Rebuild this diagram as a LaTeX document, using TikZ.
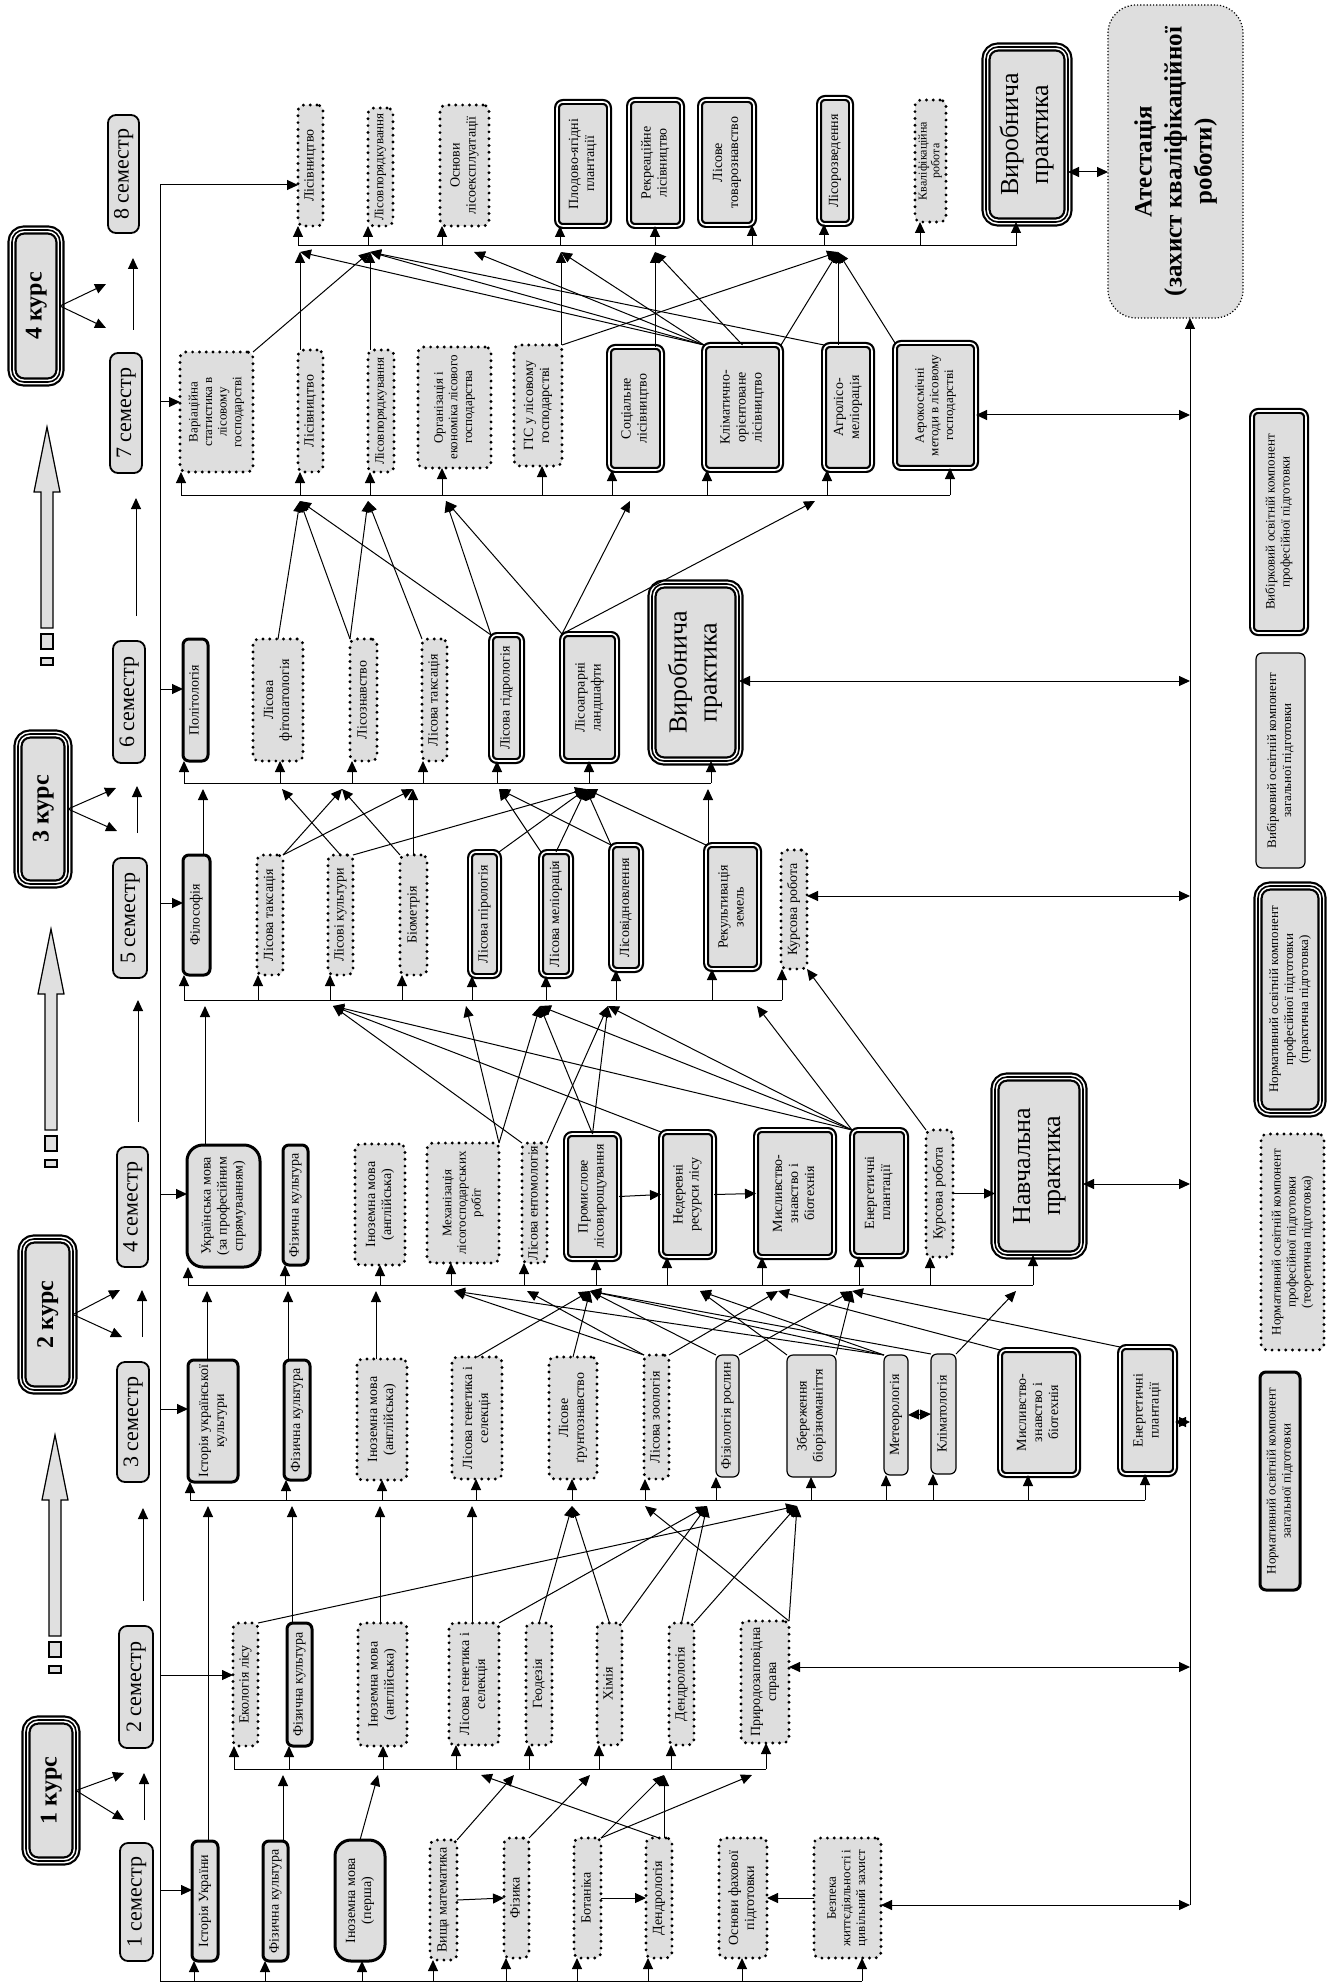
\documentclass[tikz,border=0pt]{standalone}
\usepackage{fontspec}
\setmainfont{Liberation Serif}
\usepackage{graphicx}
\usetikzlibrary{arrows.meta,calc}
\newcommand{\dgbox}[7]{\node[#2, minimum width={(#5-#3)*0.5pt}, minimum height={(#6-#4)*0.5pt}] (#1) at ({(#3+#5)/2},{(#4+#6)/2}) {\rotatebox{90}{\begin{tabular}{@{}c@{}}#7\end{tabular}}};}
\newcommand{\dgstem}[4]{\coordinate (#1-b) at (#2,#4); \coordinate (#1-t) at (#3,#4+6); \draw[arr] (#1-b) -- (#1-b |- #1.south);}
\newcommand{\dgblock}[2]{%
 \filldraw[fill=black!12, draw=black, line width=0.6pt] (#1,#2) -- (#1+13,#2+65) -- (#1+6,#2+65) -- (#1+6,#2+201) -- (#1-6,#2+201) -- (#1-6,#2+65) -- (#1-13,#2+65) -- cycle;
 \filldraw[fill=black!12, draw=black, line width=0.6pt] (#1-6,#2+207) rectangle (#1+6,#2+222);
 \filldraw[fill=black!12, draw=black, line width=0.6pt] (#1-6,#2+231) rectangle (#1+6,#2+238);}
\tikzset{
 conn/.style={line width=0.5pt},
 arr/.style={conn, -{Triangle[length=5.5pt,width=5pt]}},
 darr/.style={conn, {Triangle[length=5.5pt,width=5pt]}-{Triangle[length=5.5pt,width=5pt]}},
 boxbase/.style={inner sep=0pt, outer sep=0pt, align=center, font=\fontsize{7}{8}\selectfont, rounded corners=3pt},
 ngen/.style={boxbase, draw, fill=black!13, line width=1.5pt},
 nprof/.style={boxbase, draw, fill=black!13, line width=1.6pt, dash pattern=on 0pt off 3.4pt, line cap=round},
 egen/.style={boxbase, draw, fill=black!13, line width=0.6pt},
 eprof/.style={boxbase, preaction={fill=black!13, draw=black, line width=3pt}, draw=white, line width=0.8pt},
 prac/.style={boxbase, rounded corners=6pt, preaction={fill=black!13, draw=black, line width=4.6pt}, draw=white, line width=0.8pt, double=black, double distance=0.8pt},
 semb/.style={boxbase, draw, fill=black!13, line width=0.9pt, rounded corners=4pt, font=\fontsize{11}{13}\selectfont},
 course/.style={prac, font=\bfseries\fontsize{12}{14}\selectfont},
 attb/.style={boxbase, draw, fill=black!13, line width=0.6pt, densely dotted, rounded corners=14pt, font=\bfseries\fontsize{12.5}{15}\selectfont},
 bigtxt/.style={font=\fontsize{13}{15}\selectfont},
 smtxt/.style={font=\fontsize{6.5}{7.3}\selectfont},
 tinytxt/.style={font=\fontsize{6}{6.4}\selectfont},
 legtxt/.style={font=\fontsize{6.5}{7.5}\selectfont},
}
\begin{document}
\begin{tikzpicture}[x=0.5pt,y=-0.5pt]
\useasboundingbox (0,0) rectangle (1331,1984);

% ---------- headers ----------
\dgblock{47}{427}
\dgblock{51}{929}
\dgblock{55}{1435}
\dgbox{c4}{course}{12}{230}{60}{382}{4 курс}
\dgbox{c3}{course}{18}{734}{68}{884}{3 курс}
\dgbox{c2}{course}{22}{1239}{73}{1390}{2 курс}
\dgbox{c1}{course}{26}{1720}{76}{1861}{1 курс}
\dgbox{m8}{semb}{108}{115}{139}{233}{8 семестр}
\dgbox{m7}{semb}{110}{353}{142}{473}{7 семестр}
\dgbox{m6}{semb}{113}{641}{145}{763}{6 семестр}
\dgbox{m5}{semb}{113}{858}{147}{978}{5 семестр}
\dgbox{m4}{semb}{117}{1147}{148}{1267}{4 семестр}
\dgbox{m3}{semb}{117}{1362}{149}{1482}{3 семестр}
\dgbox{m2}{semb}{119}{1626}{153}{1748}{2 семестр}
\dgbox{m1}{semb}{120}{1843}{153}{1961}{1 семестр}
\coordinate (k4a) at (106,284); \coordinate (k4b) at (106,328);
\coordinate (k3a) at (116,788); \coordinate (k3b) at (117,831);
\coordinate (k2a) at (120,1290); \coordinate (k2b) at (122,1337);
\coordinate (k1a) at (124,1773); \coordinate (k1b) at (124,1820);
\foreach \c in {4,3,2,1}{\draw[arr] (c\c.east) -- (k\c a); \draw[arr] (c\c.east) -- (k\c b);}
\coordinate (v4a) at (133,330); \coordinate (v4b) at (133,258);
\coordinate (v3a) at (137,833); \coordinate (v3b) at (137,786);
\coordinate (v2a) at (142,1337); \coordinate (v2b) at (142,1290);
\coordinate (v1a) at (144,1820); \coordinate (v1b) at (144,1773);
\coordinate (w3a) at (136,616); \coordinate (w3b) at (136,498);
\coordinate (w2a) at (138,1122); \coordinate (w2b) at (138,1000);
\coordinate (w1a) at (143,1601); \coordinate (w1b) at (143,1508);
\foreach \c in {v4,v3,v2,v1,w3,w2,w1}{\draw[arr] (\c a) -- (\c b);}

% ---------- semester 8 ----------
\dgbox{s8a}{nprof}{298}{105}{323}{226}{Лісівництво}
\dgbox{s8b}{nprof,smtxt}{368}{108}{393}{226}{Лісовпорядкування}
\dgbox{s8c}{nprof}{440}{105}{489}{226}{Основи\\лісоексплуатації}
\dgbox{s8d}{eprof}{557}{102}{609}{226}{Плодово-ягідні\\плантації}
\dgbox{s8e}{eprof}{629}{100}{682}{226}{Рекреаційне\\лісівництво}
\dgbox{s8f}{eprof}{700}{100}{754}{225}{Лісове\\товарознавство}
\dgbox{s8g}{eprof}{819}{98}{851}{224}{Лісорозведення}
\dgbox{s8h}{nprof,tinytxt}{915}{100}{946}{222}{Кваліфікаційна\\робота}
\dgbox{s8i}{prac,bigtxt}{986}{47}{1068}{222}{Виробнича\\практика}
\dgbox{att}{attb}{1108}{5}{1243}{318}{Атестація\\(захист кваліфікаційної\\роботи)}

% ---------- semester 7 ----------
\dgbox{s7a}{nprof,smtxt}{180}{352}{253}{472}{Варіаційна\\статистика в\\лісовому\\господарстві}
\dgbox{s7b}{nprof}{298}{350}{323}{472}{Лісівництво}
\dgbox{s7c}{nprof,smtxt}{368}{350}{394}{472}{Лісовпорядкування}
\dgbox{s7d}{nprof,smtxt}{418}{347}{491}{468}{Організація і\\економіка лісового\\господарства}
\dgbox{s7e}{nprof}{514}{345}{562}{466}{ГІС у лісовому\\господарстві}
\dgbox{s7f}{eprof}{609}{347}{662}{470}{Соціальне\\лісівництво}
\dgbox{s7g}{eprof}{704}{345}{781}{470}{Кліматично-\\орієнтоване\\лісівництво}
\dgbox{s7h}{eprof}{824}{345}{872}{470}{Агролісо-\\меліорація}
\dgbox{s7i}{eprof,smtxt}{895}{343}{976}{468}{Аерокосмічні\\методи в лісовому\\господарстві}

% ---------- semester 6 ----------
\dgbox{s6a}{ngen}{183}{639}{208}{761}{Політологія}
\dgbox{s6b}{nprof}{253}{639}{303}{761}{Лісова\\фітопатологія}
\dgbox{s6c}{nprof}{350}{639}{377}{761}{Лісознавство}
\dgbox{s6d}{nprof}{422}{639}{447}{761}{Лісова таксація}
\dgbox{s6e}{eprof}{491}{635}{522}{761}{Лісова гідрологія}
\dgbox{s6f}{eprof}{562}{634}{617}{761}{Лісоаграрні\\ландшафти}
\dgbox{s6g}{prac,bigtxt}{652}{584}{739}{761}{Виробнича\\практика}

% ---------- semester 5 ----------
\dgbox{s5a}{ngen}{183}{855}{210}{975}{Філософія}
\dgbox{s5b}{nprof}{257}{855}{283}{975}{Лісова таксація}
\dgbox{s5c}{nprof}{328}{855}{353}{975}{Лісові культури}
\dgbox{s5d}{nprof}{400}{855}{427}{975}{Біометрія}
\dgbox{s5e}{eprof}{470}{852}{499}{976}{Лісова пірологія}
\dgbox{s5f}{eprof}{541}{852}{571}{976}{Лісова меліорація}
\dgbox{s5g}{eprof}{611}{845}{641}{970}{Лісовідновлення}
\dgbox{s5h}{eprof}{706}{845}{759}{969}{Рекультивація\\земель}
\dgbox{s5i}{nprof}{781}{850}{807}{969}{Курсова робота}

% ---------- semester 4 ----------
\dgbox{s4a}{ngen,rounded corners=8pt}{187}{1145}{260}{1267}{Українська мова\\(за професійним\\спрямуванням)}
\dgbox{s4b}{ngen}{283}{1145}{308}{1265}{Фізична культура}
\dgbox{s4c}{nprof}{355}{1144}{405}{1265}{Іноземна мова\\(англійська)}
\dgbox{s4d}{nprof,smtxt}{427}{1143}{499}{1263}{Механізація\\лісогосподарських\\робіт}
\dgbox{s4e}{nprof}{522}{1143}{547}{1263}{Лісова ентомологія}
\dgbox{s4f}{eprof}{566}{1134}{619}{1259}{Промислове\\лісовирощування}
\dgbox{s4g}{eprof}{661}{1132}{714}{1257}{Недеревні\\ресурси лісу}
\dgbox{s4h}{eprof}{756}{1130}{834}{1257}{Мисливство-\\знавство і\\біотехнія}
\dgbox{s4i}{eprof}{852}{1130}{906}{1256}{Енергетичні\\плантації}
\dgbox{s4j}{nprof}{926}{1130}{953}{1257}{Курсова робота}
\dgbox{s4k}{prac,bigtxt}{995}{1077}{1083}{1255}{Навчальна\\практика}

% ---------- semester 3 ----------
\dgbox{s3a}{ngen}{188}{1360}{238}{1482}{Історія української\\культури}
\dgbox{s3b}{ngen}{284}{1360}{310}{1480}{Фізична культура}
\dgbox{s3c}{nprof}{357}{1359}{407}{1480}{Іноземна мова\\(англійська)}
\dgbox{s3d}{nprof}{452}{1357}{502}{1479}{Лісова генетика і\\селекція}
\dgbox{s3e}{nprof}{549}{1357}{597}{1479}{Лісове\\ґрунтознавство}
\dgbox{s3f}{nprof}{644}{1355}{669}{1479}{Лісова зоологія}
\dgbox{s3g}{egen}{716}{1355}{739}{1477}{Фізіологія рослин}
\dgbox{s3h}{egen}{787}{1355}{836}{1477}{Збереження\\біорізноманіття}
\dgbox{s3i}{egen}{884}{1355}{908}{1475}{Метеорологія}
\dgbox{s3j}{egen}{931}{1354}{956}{1474}{Кліматологія}
\dgbox{s3k}{eprof}{1000}{1350}{1078}{1475}{Мисливство-\\знавство і\\біотехнія}
\dgbox{s3l}{eprof}{1120}{1347}{1175}{1474}{Енергетичні\\плантації}

% ---------- semester 2 ----------
\dgbox{s2a}{nprof}{233}{1623}{258}{1746}{Екологія лісу}
\dgbox{s2b}{ngen}{287}{1623}{312}{1746}{Фізична культура}
\dgbox{s2c}{nprof}{358}{1623}{407}{1746}{Іноземна мова\\(англійська)}
\dgbox{s2d}{nprof}{449}{1623}{499}{1745}{Лісова генетика і\\селекція}
\dgbox{s2e}{nprof}{526}{1623}{552}{1745}{Геодезія}
\dgbox{s2f}{nprof}{597}{1623}{622}{1745}{Хімія}
\dgbox{s2g}{nprof}{669}{1623}{694}{1745}{Дендрологія}
\dgbox{s2h}{nprof}{741}{1621}{789}{1743}{Природозаповідна\\справа}

% ---------- semester 1 ----------
\dgbox{s1a}{ngen}{192}{1841}{218}{1961}{Історія України}
\dgbox{s1b}{ngen}{263}{1841}{288}{1961}{Фізична культура}
\dgbox{s1c}{ngen,rounded corners=8pt}{335}{1840}{385}{1961}{Іноземна мова\\(перша)}
\dgbox{s1d}{nprof}{430}{1840}{457}{1960}{Вища математика}
\dgbox{s1e}{nprof}{504}{1838}{529}{1958}{Фізика}
\dgbox{s1f}{nprof}{574}{1838}{601}{1958}{Ботаніка}
\dgbox{s1g}{nprof}{646}{1838}{672}{1958}{Дендрологія}
\dgbox{s1h}{nprof}{719}{1838}{767}{1958}{Основи фахової\\підготовки}
\dgbox{s1i}{nprof,smtxt}{814}{1838}{881}{1958}{Безпека\\життєдіяльності і\\цивільний захист}

% ---------- legend ----------
\dgbox{L1}{eprof,legtxt}{1252}{411}{1306}{633}{Вибірковий освітній компонент\\професійної підготовки}
\dgbox{L2}{egen,legtxt}{1256}{653}{1305}{868}{Вибірковий освітній компонент\\загальної підготовки}
\dgbox{L3}{prac,legtxt}{1258}{886}{1322}{1113}{Нормативний освітній компонент\\професійної підготовки\\(практична підготовка)}
\dgbox{L4}{nprof,legtxt}{1261}{1134}{1324}{1350}{Нормативний освітній компонент\\професійної підготовки\\(теоретична підготовка)}
\dgbox{L5}{ngen,legtxt}{1260}{1372}{1300}{1590}{Нормативний освітній компонент\\загальної підготовки}

% ---------- stems and buses ----------
\dgstem{s8a}{298}{300}{246}\dgstem{s8b}{368}{370}{246}\dgstem{s8c}{442}{474}{246}
\dgstem{s8d}{560}{561}{246}\dgstem{s8e}{655}{655}{246}\dgstem{s8f}{752}{752}{246}
\dgstem{s8g}{824}{838}{246}\dgstem{s8h}{920}{920}{246}\dgstem{s8i}{1016}{1016}{246}
\draw[conn] (s8a-b) -- (s8i-b);

\dgstem{s7a}{181}{181}{495}\dgstem{s7b}{300}{300}{495}\dgstem{s7c}{370}{368}{495}
\dgstem{s7d}{442}{446}{495}\dgstem{s7e}{542}{542}{495}\dgstem{s7f}{612}{630}{495}
\dgstem{s7g}{707}{707}{495}\dgstem{s7h}{827}{815}{495}\dgstem{s7i}{950}{950}{495}
\draw[conn] (s7a-b) -- (s7i-b);

\dgstem{s6a}{184}{203}{783}\dgstem{s6b}{280}{282}{783}\dgstem{s6c}{352}{342}{783}
\dgstem{s6d}{423}{413}{783}\dgstem{s6e}{497}{499}{783}\dgstem{s6f}{589}{586}{783}
\dgstem{s6g}{711}{708}{783}
\draw[conn] (s6a-b) -- (s6g-b);

\dgstem{s5a}{184}{205}{1000}\dgstem{s5b}{258}{258}{1000}\dgstem{s5c}{330}{333}{1000}
\dgstem{s5d}{402}{402}{1000}\dgstem{s5e}{472}{466}{1000}\dgstem{s5f}{546}{540}{1000}
\dgstem{s5g}{616}{608}{1000}\dgstem{s5h}{712}{757}{1000}\dgstem{s5i}{782}{782}{1000}
\draw[conn] (s5a-b) -- (s5i-b);

\dgstem{s4a}{188}{207}{1285}\dgstem{s4b}{285}{288}{1285}\dgstem{s4c}{380}{376}{1285}
\dgstem{s4d}{451}{454}{1285}\dgstem{s4e}{524}{527}{1285}\dgstem{s4f}{596}{590}{1285}
\dgstem{s4g}{667}{700}{1285}\dgstem{s4h}{762}{778}{1285}\dgstem{s4i}{859}{852}{1285}
\dgstem{s4j}{930}{930}{1285}\dgstem{s4k}{1033}{1016}{1285}
\draw[conn] (s4a-b) -- (s4k-b);

\dgstem{s3a}{190}{208}{1500}\dgstem{s3b}{286}{292}{1500}\dgstem{s3c}{382}{380}{1500}
\dgstem{s3d}{476}{472}{1500}\dgstem{s3e}{572}{572}{1500}\dgstem{s3f}{645}{645}{1500}
\dgstem{s3g}{716}{707}{1500}\dgstem{s3h}{811}{797}{1500}\dgstem{s3i}{886}{886}{1500}
\dgstem{s3j}{933}{933}{1500}\dgstem{s3k}{1028}{1028}{1500}\dgstem{s3l}{1145}{1145}{1500}
\draw[conn] (s3a-b) -- (s3l-b);

\dgstem{s2a}{234}{234}{1769}\dgstem{s2b}{289}{283}{1769}\dgstem{s2c}{383}{378}{1769}
\dgstem{s2d}{456}{481}{1769}\dgstem{s2e}{529}{514}{1769}\dgstem{s2f}{599}{590}{1769}
\dgstem{s2g}{671}{664}{1769}\dgstem{s2h}{766}{752}{1769}
\draw[conn] (s2a-b) -- (s2h-b);

\dgstem{s1a}{194}{194}{1981}\dgstem{s1b}{265}{265}{1981}\dgstem{s1c}{362}{362}{1981}
\dgstem{s1d}{433}{433}{1981}\dgstem{s1e}{506}{506}{1981}\dgstem{s1f}{577}{577}{1981}
\dgstem{s1g}{648}{648}{1981}\dgstem{s1h}{742}{742}{1981}\dgstem{s1i}{862}{862}{1981}

% ---------- left line ----------
\coordinate (LT) at (160,185); \coordinate (LB) at (160,1981);
\draw[conn] (LB) -- (LT);
\draw[conn] (LB) -- (s1i-b);
\draw[arr] (LT) -- (LT -| s8a.west);
\coordinate (L7) at (160,402); \draw[arr] (L7) -- (L7 -| s7a.west);
\coordinate (L6) at (160,689); \draw[arr] (L6) -- (L6 -| s6a.west);
\coordinate (L5) at (160,903); \draw[arr] (L5) -- (L5 -| s5a.west);
\coordinate (L4) at (160,1194); \draw[arr] (L4) -- (L4 -| s4a.west);
\coordinate (L3) at (160,1409); \draw[arr] (L3) -- (L3 -| s3a.west);
\coordinate (L2) at (160,1675); \draw[arr] (L2) -- (L2 -| s2a.west);
\coordinate (L1) at (160,1890); \draw[arr] (L1) -- (L1 -| s1a.west);

% ---------- right line ----------
\coordinate (R1) at (1190,1905);
\draw[arr] (R1) -- (R1 |- att.south);
\draw[darr] (R1 -| s1i.east) -- (R1);
\coordinate (R2) at (1190,1667); \draw[darr] (R2 -| s2h.east) -- (R2);
\coordinate (R3) at (1190,1422); \draw[darr] (R3 -| s3l.east) -- (R3);
\coordinate (R4) at (1190,1184); \draw[darr] (R4 -| s4k.east) -- (R4);
\coordinate (R5) at (1190,896); \draw[darr] (R5 -| s5i.east) -- (R5);
\coordinate (R6) at (1190,681); \draw[darr] (R6 -| s6g.east) -- (R6);
\coordinate (R7) at (1190,415); \draw[darr] (R7 -| s7i.east) -- (R7);
\coordinate (A8) at (1080,172); \draw[darr] (A8 -| s8i.east) -- (A8 -| att.west);

% ---------- within semester ----------
\draw[arr] (s1d.east) -- (s1e.west);
\draw[arr] (s1f.east) -- (s1g.west);
\draw[arr] (s1i.west) -- (s1h.east);
\draw[darr] (s3i.east) -- (s3j.west);
\draw[arr] (s4f.east) -- (s4g.west);
\draw[arr] (s4g.east) -- (s4h.west);
\draw[arr] (s4j.east) -- (s4j.east -| s4k.west);

% ---------- sem1 -> sem2 ----------
\draw[arr] (s1a.north -| s3a-t) -- (s3a-t);
\draw[arr] (s1b.north -| s2b-t) -- (s2b-t);
\draw[arr] (s1c.north) -- (s2c-t);
\draw[arr] (s1d.north east) -- (s2e-t);
\draw[arr] (s1e.north east) -- (s2f-t);
\draw[arr] (s1f.north east) -- (s2g-t);
\draw[arr] (s1f.north east) -- (s2h-t);
\draw[arr] (s1g.north -| s2g-t) -- (s2g-t);
\draw[arr] (s1g.north) -- (s2d-t);

% ---------- sem2 -> sem3 ----------
\draw[arr] (s2b.north -| s3b-t) -- (s3b-t);
\draw[arr] (s2c.north -| s3c-t) -- (s3c-t);
\draw[arr] (s2d.north -| s3d-t) -- (s3d-t);
\draw[arr] (s2d.north east) -- (s3g-t);
\draw[arr] (s2a.north east) -- (s3h-t);
\draw[arr] (s2e.north) -- (s3e-t);
\draw[arr] (s2f.north) -- (s3e-t);
\draw[arr] (s2f.north east) -- (s3g-t);
\draw[arr] (s2g.north) -- (s3g-t);
\draw[arr] (s2g.north east) -- (s3h-t);
\draw[arr] (s2h.north east) -- (s3f-t);
\draw[arr] (s2h.north east) -- (s3h-t);

% ---------- sem3 -> sem4 ----------
\draw[arr] (s3a.north -| s4a-t) -- (s4a-t);
\draw[arr] (s3b.north -| s4b-t) -- (s4b-t);
\draw[arr] (s3c.north -| s4c-t) -- (s4c-t);
\draw[arr] (s3d.north) -- (s4f-t);
\draw[arr] (s3e.north) -- (s4f-t);
\draw[arr] (s3f.north west) -- (s4e-t);
\draw[arr] (s3f.north west) -- (s4d-t);
\draw[arr] (s3f.north east) -- (s4h-t);
\draw[arr] (s3g.north west) -- (s4f-t);
\draw[arr] (s3g.north east) -- (s4i-t);
\draw[arr] (s3h.north west) -- (s4g-t);
\draw[arr] (s3h.north east) -- (s4i-t);
\draw[arr] (s3i.north west) -- (s4d-t);
\draw[arr] (s3i.north west) -- (s4f-t);
\draw[arr] (s3i.north west) -- (s4g-t);
\draw[arr] (s3j.north west) -- (s4f-t);
\draw[arr] (s3j.north east) -- (s4k-t);
\draw[arr] (s3k.north west) -- (s4h-t);
\draw[arr] (s3l.north west) -- (s4i-t);

% ---------- sem4 -> sem5 ----------
\draw[arr] (s4a.north -| s5a-t) -- (s5a-t);
\draw[arr] (s4d.north east) -- (s5e-t);
\draw[arr] (s4d.north east) -- (s5f-t);
\draw[arr] (s4e.north west) -- (s5c-t);
\draw[arr] (s4e.north east) -- (s5g-t);
\draw[arr] (s4f.north) -- (s5f-t);
\draw[arr] (s4f.north) -- (s5g-t);
\draw[arr] (s4g.north west) -- (s5c-t);
\draw[arr] (s4i.north west) -- (s5c-t);
\draw[arr] (s4i.north west) -- (s5f-t);
\draw[arr] (s4i.north west) -- (s5g-t);
\draw[arr] (s4i.north west) -- (s5h-t);
\draw[arr] (s4j.north west) -- (s5i.south east);

% ---------- sem5 -> sem6 ----------
\draw[arr] (s5a.north -| s6a-t) -- (s6a-t);
\draw[arr] (s5b.north east) -- (s6c-t);
\draw[arr] (s5b.north east) -- (s6d-t);
\draw[arr] (s5c.north) -- (s6b-t);
\draw[arr] (s5c.north east) -- (s6f-t);
\draw[arr] (s5d.north west) -- (s6c-t);
\draw[arr] (s5d.north -| s6d-t) -- (s6d-t);
\draw[arr] (s5e.north east) -- (s6f-t);
\draw[arr] (s5f.north west) -- (s6e-t);
\draw[arr] (s5f.north) -- (s6f-t);
\draw[arr] (s5g.north west) -- (s6e-t);
\draw[arr] (s5g.north west) -- (s6f-t);
\draw[arr] (s5h.north west) -- (s6f-t);
\draw[arr] (s6g-t |- s5h.north) -- (s6g-t);

% ---------- sem6 -> sem7 ----------
\draw[arr] (s6b.north) -- (s7b-t);
\draw[arr] (s6c.north west) -- (s7b-t);
\draw[arr] (s6c.north west) -- (s7c-t);
\draw[arr] (s6d.north west) -- (s7c-t);
\draw[arr] (s6e.north west) -- (s7b-t);
\draw[arr] (s6e.north west) -- (s7d-t);
\draw[arr] (s6f.north west) -- (s7d-t);
\draw[arr] (s6f.north west) -- (s7f-t);
\draw[arr] (s6f.north west) -- (s7h-t);

% ---------- sem7 -> sem8 ----------
\draw[arr] (s7a.north east) -- (s8b-t);
\draw[arr] (s8a-t |- s7b.north) -- (s8a-t);
\draw[arr] (s8b-t |- s7c.north) -- (s8b-t);
\draw[arr] (s8d-t |- s7e.north) -- (s8d-t);
\draw[arr] (s7e.north east) -- (s8g-t);
\draw[arr] (s8e-t |- s7f.north) -- (s8e-t);
\draw[arr] (s7g.north west) -- (s8a-t);
\draw[arr] (s7g.north west) -- (s8b-t);
\draw[arr] (s7g.north west) -- (s8c-t);
\draw[arr] (s7g.north west) -- (s8d-t);
\draw[arr] (s7g.north) -- (s8e-t);
\draw[arr] (s7g.north east) -- (s8g-t);
\draw[arr] (s7h.north west) -- (s8b-t);
\draw[arr] (s8g-t |- s7h.north) -- (s8g-t);
\draw[arr] (s7i.north west) -- (s8g-t);
\end{tikzpicture}
\end{document}
